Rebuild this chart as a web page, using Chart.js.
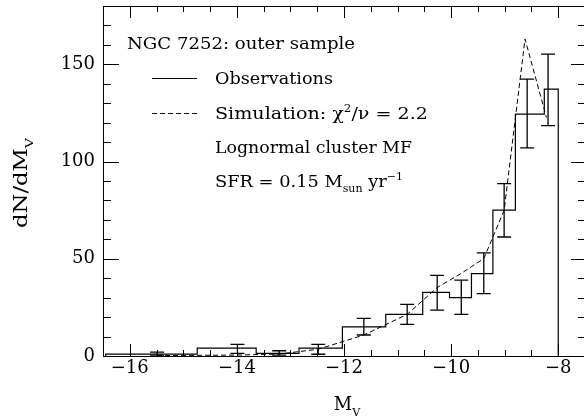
<!DOCTYPE html>
<html><head><meta charset="utf-8">
<script src="https://cdn.jsdelivr.net/npm/chart.js@4/dist/chart.umd.min.js"></script>
<style>
html,body{margin:0;padding:0;overflow:hidden;background:#fff;width:584px;height:418px}
#wrap{position:absolute;left:0;top:0;width:590px;height:418px}
</style>
</head><body><div id="wrap"><canvas id="c" width="590" height="418"></canvas></div>
<script>
// ---- data ----
const binEdges  = [-16.45, -14.74, -13.64, -12.84, -12.03, -11.22, -10.53, -10.03, -9.62, -9.22, -8.80, -8.26, -8.00];
const binValues = [1.0, 4.0, 1.4, 4.0, 15.0, 21.4, 32.7, 30.0, 42.4, 75.0, 124.4, 137.3];
const errX      = [-15.49, -13.99, -13.21, -12.48, -11.63, -10.82, -10.26, -9.81, -9.39, -9.01, -8.58, -8.19];
const errLow    = [0.5, 1.4, 0.5, 0.9, 10.8, 16.3, 23.6, 21.4, 32.1, 61.2, 107.0, 118.5];
const errHigh   = [2.0, 6.0, 2.7, 6.0, 19.3, 26.5, 41.5, 39.0, 53.0, 88.6, 142.4, 155.2];
const simX      = [-15.49, -13.99, -13.21, -12.48, -11.63, -10.82, -10.26, -9.81, -9.39, -9.01, -8.62, -8.22];
const simY      = [0.2, 0.5, 1.0, 3.5, 10.8, 21.4, 35.2, 42.5, 50.1, 74.9, 163.0, 122.7];
const xTickValues = [-16, -14, -12, -10, -8];
const yTickValues = [0, 50, 100, 150];
const xRange = [-16.5, -7.5];
const yRange = [0, 180];

// histogram outline built from bins
const histPts = [{x: binEdges[0], y: 0}];
binValues.forEach((v, i) => { histPts.push({x: binEdges[i], y: v}); histPts.push({x: binEdges[i + 1], y: v}); });
histPts.push({x: binEdges[binEdges.length - 1], y: 0});
const simPts = simX.map((x, i) => ({x, y: simY[i]}));

const FONT = '"DejaVu Serif", "Liberation Serif", serif';

function drawRich(ctx, segs, x, y, size, targetW, align) {
  let nat = 0;
  const fs = s => (s.sub || s.sup) ? size * 0.62 : size;
  segs.forEach(s => { ctx.font = fs(s) + 'px ' + FONT; nat += ctx.measureText(s.t).width; });
  const sx = targetW ? targetW / nat : 1;
  const w = nat * sx;
  ctx.save();
  ctx.translate(align === 'center' ? x - w / 2 : x, y);
  ctx.scale(sx, 1);
  ctx.fillStyle = '#000';
  ctx.textBaseline = 'alphabetic';
  ctx.textAlign = 'left';
  let cx = 0;
  const base = 0.36 * size;
  segs.forEach(s => {
    ctx.font = fs(s) + 'px ' + FONT;
    let dy = base;
    if (s.sub) dy += 0.28 * size;
    if (s.sup) dy -= 0.42 * size;
    ctx.fillText(s.t, cx, dy);
    cx += ctx.measureText(s.t).width;
  });
  ctx.restore();
}

const decor = {
  id: 'decor',
  afterDatasetsDraw(chart) {
    const ctx = chart.ctx, xs = chart.scales.x, ys = chart.scales.y, a = chart.chartArea;
    ctx.save();
    // error bars
    ctx.strokeStyle = '#000'; ctx.lineWidth = 1.3;
    errX.forEach((xv, i) => {
      const px = xs.getPixelForValue(xv), p1 = ys.getPixelForValue(errLow[i]), p2 = ys.getPixelForValue(errHigh[i]);
      ctx.beginPath();
      ctx.moveTo(px, p1); ctx.lineTo(px, p2);
      ctx.moveTo(px - 7, p1); ctx.lineTo(px + 7, p1);
      ctx.moveTo(px - 7, p2); ctx.lineTo(px + 7, p2);
      ctx.stroke();
    });
    // frame
    ctx.lineWidth = 1;
    ctx.strokeRect(Math.round(a.left) + 0.5, Math.round(a.top) + 0.5, a.right - a.left, a.bottom - a.top);
    // x ticks (inside, bottom and top)
    ctx.beginPath();
    for (let v = xRange[0]; v <= xRange[1] + 1e-9; v += 0.5) {
      const px = Math.round(xs.getPixelForValue(v)) + 0.5;
      const major = Math.abs(v % 2) < 1e-9;
      const L = major ? 12 : 6;
      ctx.moveTo(px, a.bottom); ctx.lineTo(px, a.bottom - L);
      ctx.moveTo(px, a.top); ctx.lineTo(px, a.top + L);
    }
    for (let v = yRange[0]; v <= yRange[1] + 1e-9; v += 10) {
      const py = Math.round(ys.getPixelForValue(v)) + 0.5;
      const major = Math.abs(v % 50) < 1e-9;
      ctx.moveTo(a.left, py); ctx.lineTo(a.left + (major ? 16 : 8), py);
      ctx.moveTo(a.right, py); ctx.lineTo(a.right - (major ? 14 : 7), py);
    }
    ctx.stroke();
    // legend lines
    ctx.beginPath(); ctx.moveTo(152, 78.5); ctx.lineTo(197, 78.5); ctx.stroke();
    ctx.setLineDash([5, 3]);
    ctx.beginPath(); ctx.moveTo(152, 113.5); ctx.lineTo(197, 113.5); ctx.stroke();
    ctx.setLineDash([]);
    // annotation texts
    const S = 16.5;
    drawRich(ctx, [{t: 'NGC 7252: outer sample'}], 127, 43, S, 228);
    drawRich(ctx, [{t: 'Observations'}], 215, 78, S, 118);
    drawRich(ctx, [{t: 'Simulation: \u03c7'}, {t: '2', sup: true}, {t: '/\u03bd = 2.2'}], 215, 113, S, 213);
    drawRich(ctx, [{t: 'Lognormal cluster MF'}], 215, 147, S, 197);
    drawRich(ctx, [{t: 'SFR = 0.15 M'}, {t: 'sun', sub: true}, {t: ' yr'}, {t: '\u22121', sup: true}], 215, 181, S, 188);
    // axis titles
    drawRich(ctx, [{t: 'M'}, {t: 'V', sub: true}], 347, 404, 18, null, 'center');
    ctx.save();
    ctx.translate(21, 183); ctx.rotate(-Math.PI / 2);
    drawRich(ctx, [{t: 'dN/dM'}, {t: 'V', sub: true}], 0, 0, 18, 90, 'center');
    ctx.restore();
    ctx.restore();
  }
};

const fmt = v => (v < 0 ? '\u2212' : '') + Math.abs(v);

new Chart(document.getElementById('c'), {
  type: 'scatter',
  data: {
    datasets: [
      {label: 'Observations', data: histPts, showLine: true, borderColor: '#000', borderWidth: 1.2, pointRadius: 0, tension: 0, fill: false},
      {label: 'Simulation', data: simPts, showLine: true, borderColor: '#000', borderWidth: 1, borderDash: [5, 3], pointRadius: 0, tension: 0, fill: false}
    ]
  },
  options: {
    responsive: false, animation: false, devicePixelRatio: 1,
    layout: {padding: {top: 6, right: 5, left: 0, bottom: 0}},
    plugins: {legend: {display: false}, tooltip: {enabled: false}},
    scales: {
      x: {
        type: 'linear', position: 'bottom', min: xRange[0], max: xRange[1],
        grid: {display: false, drawTicks: false}, border: {display: false},
        ticks: {font: {family: FONT, size: 18}, color: '#000', padding: 2, maxRotation: 0, autoSkip: false, callback: fmt},
        afterBuildTicks: s => { s.ticks = xTickValues.map(v => ({value: v})); },
        afterFit: s => { s.height = 62; s.paddingLeft = 0; s.paddingRight = 0; }
      },
      y: {
        type: 'linear', position: 'left', min: yRange[0], max: yRange[1],
        grid: {display: false, drawTicks: false}, border: {display: false},
        ticks: {font: {family: FONT, size: 18}, color: '#000', padding: 8, autoSkip: false, callback: fmt},
        afterBuildTicks: s => { s.ticks = yTickValues.map(v => ({value: v})); },
        afterFit: s => { s.width = 103; s.paddingTop = 0; s.paddingBottom = 0; }
      }
    }
  },
  plugins: [decor]
});
</script>
</body></html>
